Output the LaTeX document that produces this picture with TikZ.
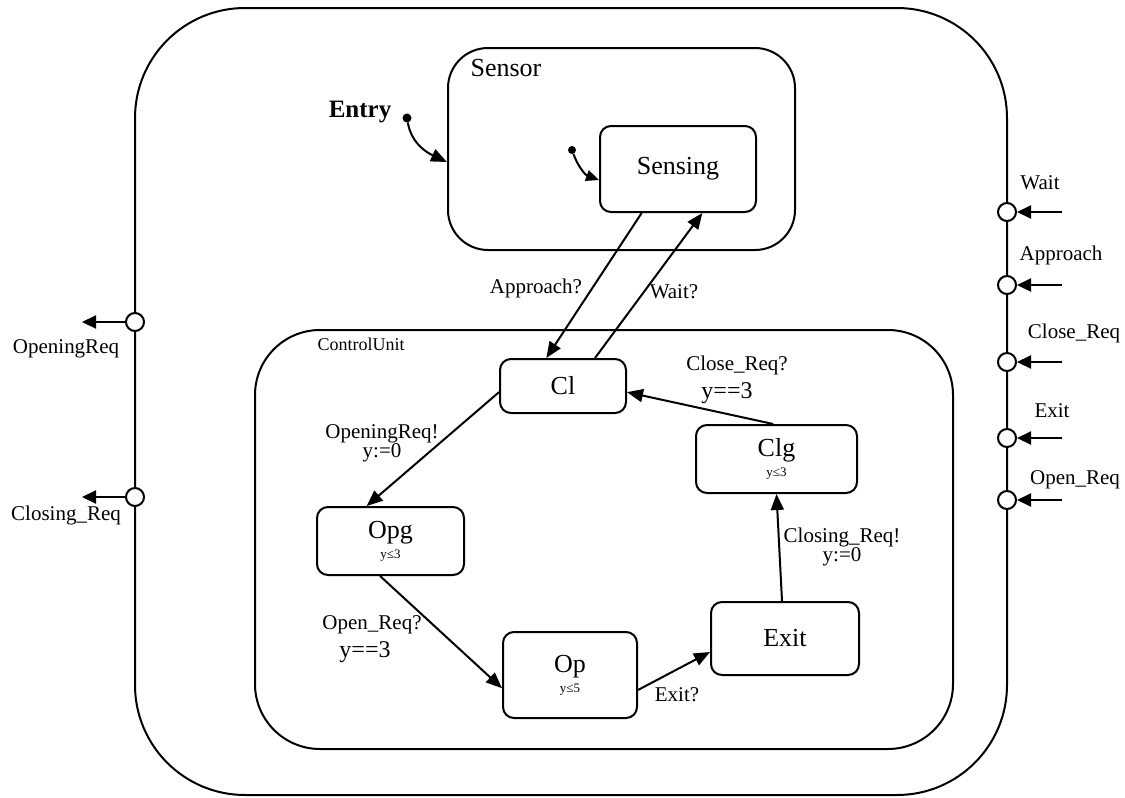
\documentclass[tikz,border=0pt]{standalone}
\usepackage{fontspec}
\setmainfont{Liberation Serif}
\usetikzlibrary{arrows.meta,positioning,calc}
\newcommand{\stfont}{\fontsize{26}{24}\selectfont}
\newcommand{\lbfont}{\fontsize{21}{19}\selectfont}
\newcommand{\grfont}{\fontsize{24}{24}\selectfont}
\newcommand{\invfont}{\fontsize{13}{13}\selectfont}
\tikzset{
  box/.style={draw,line width=2pt},
  state/.style={box,rounded corners=11pt,font=\stfont,align=center,inner sep=0pt},
  port/.style={circle,draw,fill=white,line width=2pt,minimum size=18pt,inner sep=0pt},
  dot/.style={circle,fill,minimum size=9pt,inner sep=0pt},
  arr/.style={line width=2pt,-{Triangle[length=16pt,width=13pt]}},
  parr/.style={line width=2.2pt,-{Triangle[length=14pt,width=13pt]}},
  lbl/.style={font=\lbfont,align=center,inner sep=0pt},
}
\begin{document}
\begin{tikzpicture}[x=1pt,y=-1pt]
  \useasboundingbox (0,0) rectangle (1125,798);

  % containers
  \node[box,rounded corners=110pt,minimum width=872pt,minimum height=787pt] (Top) at (571,401.5) {};
  \node[box,rounded corners=40pt,minimum width=347pt,minimum height=202pt] (Sensor) at (621.5,149) {};
  \node[box,rounded corners=65pt,minimum width=698pt,minimum height=419pt] (Ctrl) at (604,539.5) {};
  \node[font=\stfont,inner sep=0pt] (SensorLbl) at (506,68) {Sensor};
  \node[font=\fontsize{18}{18}\selectfont,inner sep=0pt] (CtrlLbl) at (361,344) {ControlUnit};

  % states
  \node[state,minimum width=156pt,minimum height=86pt] (Sensing) at (678,169) {Sensing};
  \node[state,minimum width=126pt,minimum height=54pt] (Cl) at (563,386) {Cl};
  \node[state,minimum width=147pt,minimum height=68pt] (Opg) at (390.5,541) {Opg\\[-4pt]{\invfont y≤3}};
  \node[state,minimum width=134pt,minimum height=86pt] (Op) at (570,675) {Op\\[-4pt]{\invfont y≤5}};
  \node[state,minimum width=148pt,minimum height=73pt] (Exit) at (785,638.5) {Exit};
  \node[state,minimum width=161pt,minimum height=68pt] (Clg) at (776.5,459) {Clg\\[-4pt]{\invfont y≤3}};

  % entry and initial marks
  \node[font=\fontsize{25}{25}\selectfont\bfseries,inner sep=0pt] (EntryLbl) at (360,112) {Entry};
  \node[dot] (EntryDot) at (407,118) {};
  \draw[arr] (EntryDot) to[out=-80,in=155] ($(Sensor.west)+(0,13)$);
  \node[dot,minimum size=8pt] (InitDot) at (572,150) {};
  \draw[arr,-{Triangle[length=13pt,width=11pt]}] (InitDot) to[out=-70,in=160] ($(Sensing.west)+(0,11)$);

  % transitions
  \draw[arr] ($(Sensing.south west)!0.27!(Sensing.south east)$) -- ($(Cl.north west)!0.37!(Cl.north east)$);
  \draw[arr] ($(Cl.north west)!0.75!(Cl.north east)$) -- ($(Sensing.south west)!0.654!(Sensing.south east)$);
  \draw[arr] ($(Cl.north west)!0.61!(Cl.south west)$) -- ($(Opg.north west)!0.34!(Opg.north east)$);
  \draw[arr] ($(Opg.south west)!0.43!(Opg.south east)$) -- ($(Op.north west)!0.65!(Op.south west)$);
  \draw[arr] ($(Op.north east)!0.67!(Op.south east)$) -- ($(Exit.north west)!0.68!(Exit.south west)$);
  \draw[arr] ($(Exit.north west)!0.48!(Exit.north east)$) -- (Clg.south);
  \draw[arr] ($(Clg.north west)!0.48!(Clg.north east)$) -- ($(Cl.north east)!0.61!(Cl.south east)$);

  % transition labels
  \node[lbl] (lApproach) at (536,288) {Approach?};
  \node[lbl] (lWait) at (674,292) {Wait?};
  \node[lbl] (lOpening) at (382,443) {OpeningReq!\\y:=0};
  \node[lbl] (lOpenReq) at (372,625) {Open\_Req?};
  \node[font=\grfont,inner sep=0pt] (lOpenGuard) at (365,652) {y==3};
  \node[lbl] (lExit) at (677,695) {Exit?};
  \node[lbl] (lClosing) at (842,547) {Closing\_Req!\\y:=0};
  \node[lbl] (lCloseReq) at (737,365) {Close\_Req?};
  \node[font=\grfont,inner sep=0pt] (lCloseGuard) at (727,393) {y==3};

  % output ports (left)
  \foreach \i/\y/\txt/\ly in {1/322/OpeningReq/349, 2/497/Closing\_Req/515}{
    \node[port] (out\i) at (135,\y) {};
    \coordinate (dst\i) at (82,\y);
    \draw[parr] (out\i) -- (dst\i);
    \node[lbl] (outlbl\i) at (66,\ly) {\txt};
  }

  % input ports (right)
  \foreach \i/\y/\txt/\lx/\ly in {1/212/Wait/1040/183, 2/285/Approach/1061/255,
      3/362/Close\_Req/1074/333, 4/438/Exit/1052/411, 5/500/Open\_Req/1075/480}{
    \node[port] (in\i) at (1007,\y) {};
    \coordinate (src\i) at (1062,\y);
    \draw[parr] (src\i) -- (in\i);
    \node[lbl] (inlbl\i) at (\lx,\ly) {\txt};
  }
\end{tikzpicture}
\end{document}
